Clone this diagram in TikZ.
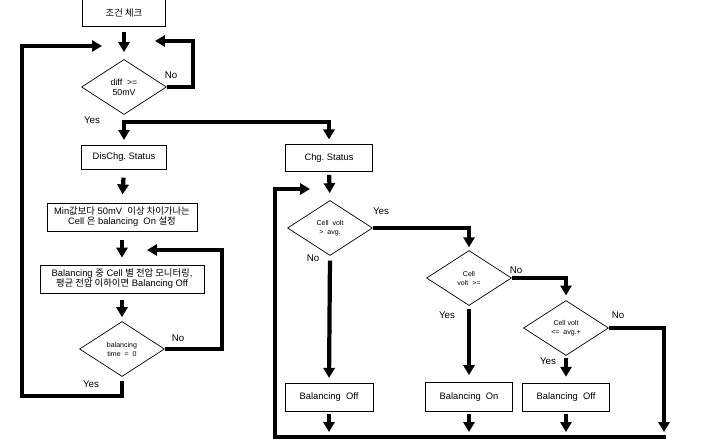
\documentclass[tikz,border=0pt]{standalone}
\usepackage{fontspec}
\setmainfont{Liberation Sans}
\newfontfamily\krfont{Noto Sans CJK KR}
\newcommand{\krtxt}[1]{{\krfont #1}}
\usetikzlibrary{shapes.geometric,arrows.meta}
\tikzset{box/.style={draw, line width=0.7pt, inner sep=1pt, align=center,
         font=\fontsize{8}{8.5}\selectfont},
         dia/.style={draw, diamond, line width=0.6pt, inner sep=0pt,
         minimum width=2.55cm, minimum height=1.65cm, align=center,
         font=\fontsize{6}{7.7}\selectfont},
         lbl/.style={inner sep=0pt, font=\fontsize{8.3}{9}\selectfont},
         bar/.style={line width=3.6pt},
         flow/.style={bar, -{Triangle[width=9.5pt,length=8.5pt]}}}

\begin{document}
\begin{tikzpicture}[x=0.03cm, y=-0.03cm]
  \useasboundingbox (0,0) rectangle (712,447);

  \node[box, minimum width=2.49cm, minimum height=0.81cm] (check) at (124,13) {\krtxt{조건 체크}};
  \node[dia, font=\fontsize{7.5}{8.5}\selectfont] (diff) at (124,87) {diff \ >=\\50mV};
  \node[box, minimum width=2.55cm, minimum height=0.72cm] (dis) at (124,157) {DisChg.\ Status};
  \node[box, minimum width=4.5cm, minimum height=0.84cm] (min) at (122,217)
    {Min\krtxt{값보다} 50mV \ \krtxt{이상 차이가나는}\\Cell \krtxt{은} balancing \ On \krtxt{설정}};
  \node[box, minimum width=4.92cm, minimum height=0.84cm] (mon) at (122,279)
    {Balancing \krtxt{중} Cell \krtxt{별 전압 모니터링},\\\krtxt{평균 전압 이하이면} Balancing Off};
  \node[dia] (time) at (122,349) {balancing\\time \ = \ 0};

  \node[box, minimum width=2.61cm, minimum height=0.81cm] (chg) at (329,158) {Chg.\ Status};
  \node[dia] (cv1) at (330,228) {Cell \ volt\\> \ avg.};
  \node[dia] (cv2) at (469,278) {Cell\\volt \ >=};
  \node[dia] (cv3) at (566,328) {Cell volt\\<= \ avg.+};
  \node[box, minimum width=2.64cm, minimum height=0.84cm] (off1) at (329,397) {Balancing \ Off};
  \node[box, minimum width=2.61cm, minimum height=0.87cm] (on) at (469,397) {Balancing \ On};
  \node[box, minimum width=2.61cm, minimum height=0.84cm] (off2) at (566,397) {Balancing \ Off};

  \node[lbl] (diffno) at (171,75) {No};
  \node[lbl] (diffyes) at (92,120) {Yes};
  \node[lbl] (timeno) at (178,338) {No};
  \node[lbl] (timeyes) at (91,384) {Yes};
  \node[lbl] (cv1yes) at (381,211) {Yes};
  \node[lbl] (cv1no) at (313,258) {No};
  \node[lbl] (cv2no) at (516,270) {No};
  \node[lbl] (cv2yes) at (447,315) {Yes};
  \node[lbl] (cv3no) at (618,315) {No};
  \node[lbl] (cv3yes) at (548,361) {Yes};

  \coordinate (noin) at (155,41);
  \coordinate (nr) at (193,41);
  \coordinate (split) at (124,122);
  \coordinate (monin) at (147,250);
  \coordinate (monr) at (222,250);
  \coordinate (ll) at (22,396);
  \coordinate (ul) at (22,46);
  \coordinate (diffin) at (102,46);
  \coordinate (cvin) at (310,189);
  \coordinate (bl) at (275,437);
  \coordinate (br) at (666,437);
  \coordinate (rend) at (664,432);
  \coordinate (bot) at (0,432);

  \draw[flow, shorten <=4pt, shorten >=6pt] (check) -- (diff);
  \draw[flow] (diff.east) -| (nr) -- (noin);
  \draw[flow, shorten <=4pt, shorten >=4pt] (diff.south) -- (dis.north);
  \draw[flow, shorten >=4pt] (split) -| (chg.north);
  \draw[flow, shorten <=7pt, shorten >=7pt] (dis.south) -- (min.north);
  \draw[flow, shorten <=7.5pt, shorten >=6pt] (min.south) -- (mon.north);
  \draw[flow, shorten <=6pt, shorten >=3.4pt] (mon.south) -- (time.north);
  \draw[flow] (time.east) -| (monr) -- (monin);
  \draw[flow, shorten <=3.4pt] (time.south) |- (ll) -- (ul) -- (diffin);

  \draw[flow, shorten <=2.5pt, shorten >=6pt] (chg.south) -- (cv1.north);
  \draw[flow, shorten >=2.5pt] (cv1.east) -| (cv2.north);
  \draw[flow, shorten <=4pt, shorten >=4pt] (cv1.south) -- (off1.north);
  \draw[flow, shorten >=4pt] (cv2.east) -| (cv3.north);
  \draw[flow, shorten <=2.5pt, shorten >=6pt] (cv2.south) -- (on.north);
  \draw[flow, shorten <=2pt, shorten >=5pt] (cv3.south) -- (off2.north);
  \draw[flow] (cv3.east) -| (rend);
  \draw[flow, shorten <=2pt] (off1.south) -- (off1.south |- bot);
  \draw[flow, shorten <=2pt] (on.south) -- (on.south |- bot);
  \draw[flow, shorten <=2pt] (off2.south) -- (off2.south |- bot);
  \draw[flow] (br) -- (bl) |- (cvin);
\end{tikzpicture}
\end{document}
